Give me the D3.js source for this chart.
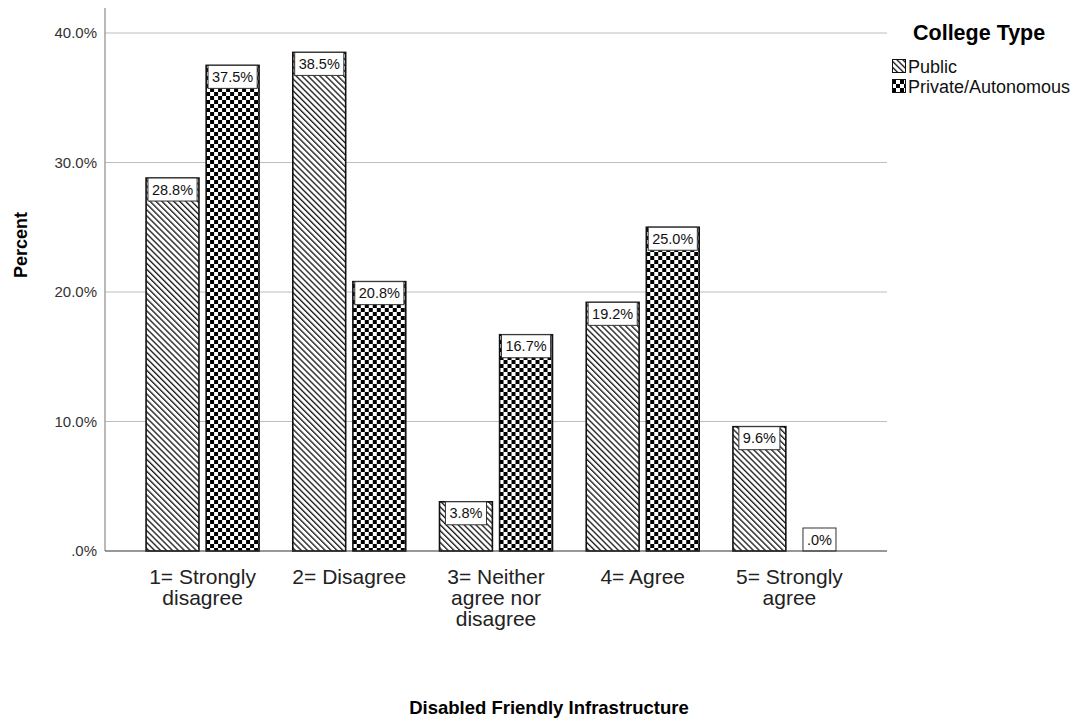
<!DOCTYPE html>
<html>
<head>
<meta charset="utf-8">
<script src="https://cdn.jsdelivr.net/npm/d3@7"></script>
<style>
  html, body { margin: 0; padding: 0; background: #fff; }
  svg { display: block; font-family: "Liberation Sans", Arial, sans-serif; }
</style>
</head>
<body>
<svg id="chart" width="1082" height="722"></svg>
<script>
// Response categories (each entry holds the wrapped lines of its axis label)
const categories = ["1= Strongly disagree", "2= Disagree", "3= Neither agree nor disagree", "4= Agree", "5= Strongly agree"];
const categoryLines = [
  ["1= Strongly", "disagree"],
  ["2= Disagree"],
  ["3= Neither", "agree nor", "disagree"],
  ["4= Agree"],
  ["5= Strongly", "agree"]
];
const seriesNames = ["Public", "Private/Autonomous"];
const publicPct = [28.8, 38.5, 3.8, 19.2, 9.6];
const privatePct = [37.5, 20.8, 16.7, 25.0, 0.0];
const yTicks = [0, 10, 20, 30, 40];

const svg = d3.select("#chart");
const plot = { left: 105, right: 887, top: 8, bottom: 551 };

const x0 = d3.scaleBand()
  .domain(categories)
  .range([plot.left, plot.right])
  .paddingInner(0.23)
  .paddingOuter(0.28);

const x1 = d3.scaleBand()
  .domain(seriesNames)
  .range([0, x0.bandwidth()])
  .paddingInner(0.12);

const y = d3.scaleLinear().domain([0, 40]).range([plot.bottom, 33]);

// Fill patterns: diagonal hatch and checkerboard
const defs = svg.append("defs");
const hatch = defs.append("pattern")
  .attr("id", "hatch")
  .attr("patternUnits", "userSpaceOnUse")
  .attr("width", 4.2).attr("height", 4.2)
  .attr("patternTransform", "rotate(45)");
hatch.append("rect").attr("width", 4.2).attr("height", 4.2).attr("fill", "#fff");
hatch.append("line")
  .attr("x1", 0).attr("y1", 1).attr("x2", 4.2).attr("y2", 1)
  .attr("stroke", "#111").attr("stroke-width", 1.3);

const checker = defs.append("pattern")
  .attr("id", "checker")
  .attr("patternUnits", "userSpaceOnUse")
  .attr("width", 8).attr("height", 8);
checker.append("rect").attr("width", 8).attr("height", 8).attr("fill", "#fff");
checker.append("rect").attr("x", 0).attr("y", 0).attr("width", 4).attr("height", 4).attr("fill", "#000");
checker.append("rect").attr("x", 4).attr("y", 4).attr("width", 4).attr("height", 4).attr("fill", "#000");

const fills = { "Public": "url(#hatch)", "Private/Autonomous": "url(#checker)" };

// Horizontal gridlines
svg.append("g")
  .selectAll("line")
  .data(yTicks.filter(t => t > 0))
  .join("line")
  .attr("x1", plot.left).attr("x2", plot.right)
  .attr("y1", d => y(d)).attr("y2", d => y(d))
  .attr("stroke", "#bdbdbd").attr("stroke-width", 1);

// Y axis
const yAxis = d3.axisLeft(y)
  .tickValues(yTicks)
  .tickSize(0)
  .tickPadding(8)
  .tickFormat(d => d === 0 ? ".0%" : d.toFixed(1) + "%");
const yg = svg.append("g")
  .attr("transform", `translate(${plot.left},0)`)
  .call(yAxis);
yg.select(".domain").remove();
yg.selectAll("text")
  .attr("font-size", 15)
  .attr("font-family", "'Liberation Sans', Arial, sans-serif")
  .attr("fill", "#333");
svg.append("line")
  .attr("x1", plot.left).attr("x2", plot.left)
  .attr("y1", plot.top).attr("y2", plot.bottom)
  .attr("stroke", "#8c8c8c").attr("stroke-width", 1.2);

// Bars
const rows = categories.map((c, i) => ({
  category: c,
  values: [
    { series: seriesNames[0], value: publicPct[i] },
    { series: seriesNames[1], value: privatePct[i] }
  ]
}));

const groups = svg.append("g")
  .selectAll("g")
  .data(rows)
  .join("g")
  .attr("transform", d => `translate(${x0(d.category)},0)`);

groups.selectAll("rect.bar")
  .data(d => d.values)
  .join("rect")
  .attr("class", "bar")
  .attr("x", d => x1(d.series))
  .attr("y", d => y(d.value))
  .attr("width", x1.bandwidth())
  .attr("height", d => y(0) - y(d.value))
  .attr("fill", d => fills[d.series])
  .attr("stroke", "#111")
  .attr("stroke-width", 1.6);

// X axis baseline
svg.append("line")
  .attr("x1", plot.left).attr("x2", plot.right)
  .attr("y1", plot.bottom).attr("y2", plot.bottom)
  .attr("stroke", "#333").attr("stroke-width", 1.2);

// Value labels in boxes at the top of each bar
const labelH = 23;
const labels = groups.selectAll("g.lbl")
  .data(d => d.values)
  .join("g")
  .attr("class", "lbl");
labels.each(function (d) {
  const g = d3.select(this);
  const txt = d.value === 0 ? ".0%" : d.value.toFixed(1) + "%";
  const cx = x1(d.series) + x1.bandwidth() / 2;
  const top = Math.min(y(d.value), y(0) - labelH);
  const t = g.append("text")
    .attr("x", cx)
    .attr("y", top + 16.5)
    .attr("text-anchor", "middle")
    .attr("font-size", 14.5)
    .attr("fill", "#111")
    .text(txt);
  const w = Math.min(t.node().getComputedTextLength() + 8, x1.bandwidth() - 2);
  g.insert("rect", "text")
    .attr("x", cx - w / 2)
    .attr("y", top)
    .attr("width", w)
    .attr("height", labelH)
    .attr("fill", "#fff")
    .attr("stroke", "#333")
    .attr("stroke-width", 1);
});

// Category labels
const catG = svg.append("g");
categories.forEach((c, i) => {
  const t = catG.append("text")
    .attr("x", x0(c) + x0.bandwidth() / 2)
    .attr("y", 584)
    .attr("text-anchor", "middle")
    .attr("font-size", 21)
    .attr("fill", "#222");
  categoryLines[i].forEach((line, j) => {
    t.append("tspan")
      .attr("x", x0(c) + x0.bandwidth() / 2)
      .attr("dy", j === 0 ? 0 : 21)
      .text(line);
  });
});

// Axis titles
svg.append("text")
  .attr("transform", "translate(27,245) rotate(-90)")
  .attr("text-anchor", "middle")
  .attr("font-size", 18)
  .attr("font-weight", "bold")
  .attr("fill", "#000")
  .text("Percent");

svg.append("text")
  .attr("x", 549)
  .attr("y", 714)
  .attr("text-anchor", "middle")
  .attr("font-size", 18.5)
  .attr("font-weight", "bold")
  .attr("fill", "#000")
  .text("Disabled Friendly Infrastructure");

// Legend
const legend = svg.append("g").attr("transform", "translate(892,0)");
legend.append("text")
  .attr("x", 21).attr("y", 40)
  .attr("font-size", 21.5)
  .attr("font-weight", "bold")
  .attr("fill", "#000")
  .text("College Type");
seriesNames.forEach((s, i) => {
  const yy = 59 + i * 20;
  legend.append("rect")
    .attr("x", 0.5).attr("y", yy + 0.5)
    .attr("width", 13).attr("height", 13)
    .attr("fill", fills[s])
    .attr("stroke", "#111").attr("stroke-width", 1);
  legend.append("text")
    .attr("x", 16).attr("y", yy + 14)
    .attr("font-size", 18)
    .attr("fill", "#111")
    .text(s);
});
</script>
</body>
</html>
